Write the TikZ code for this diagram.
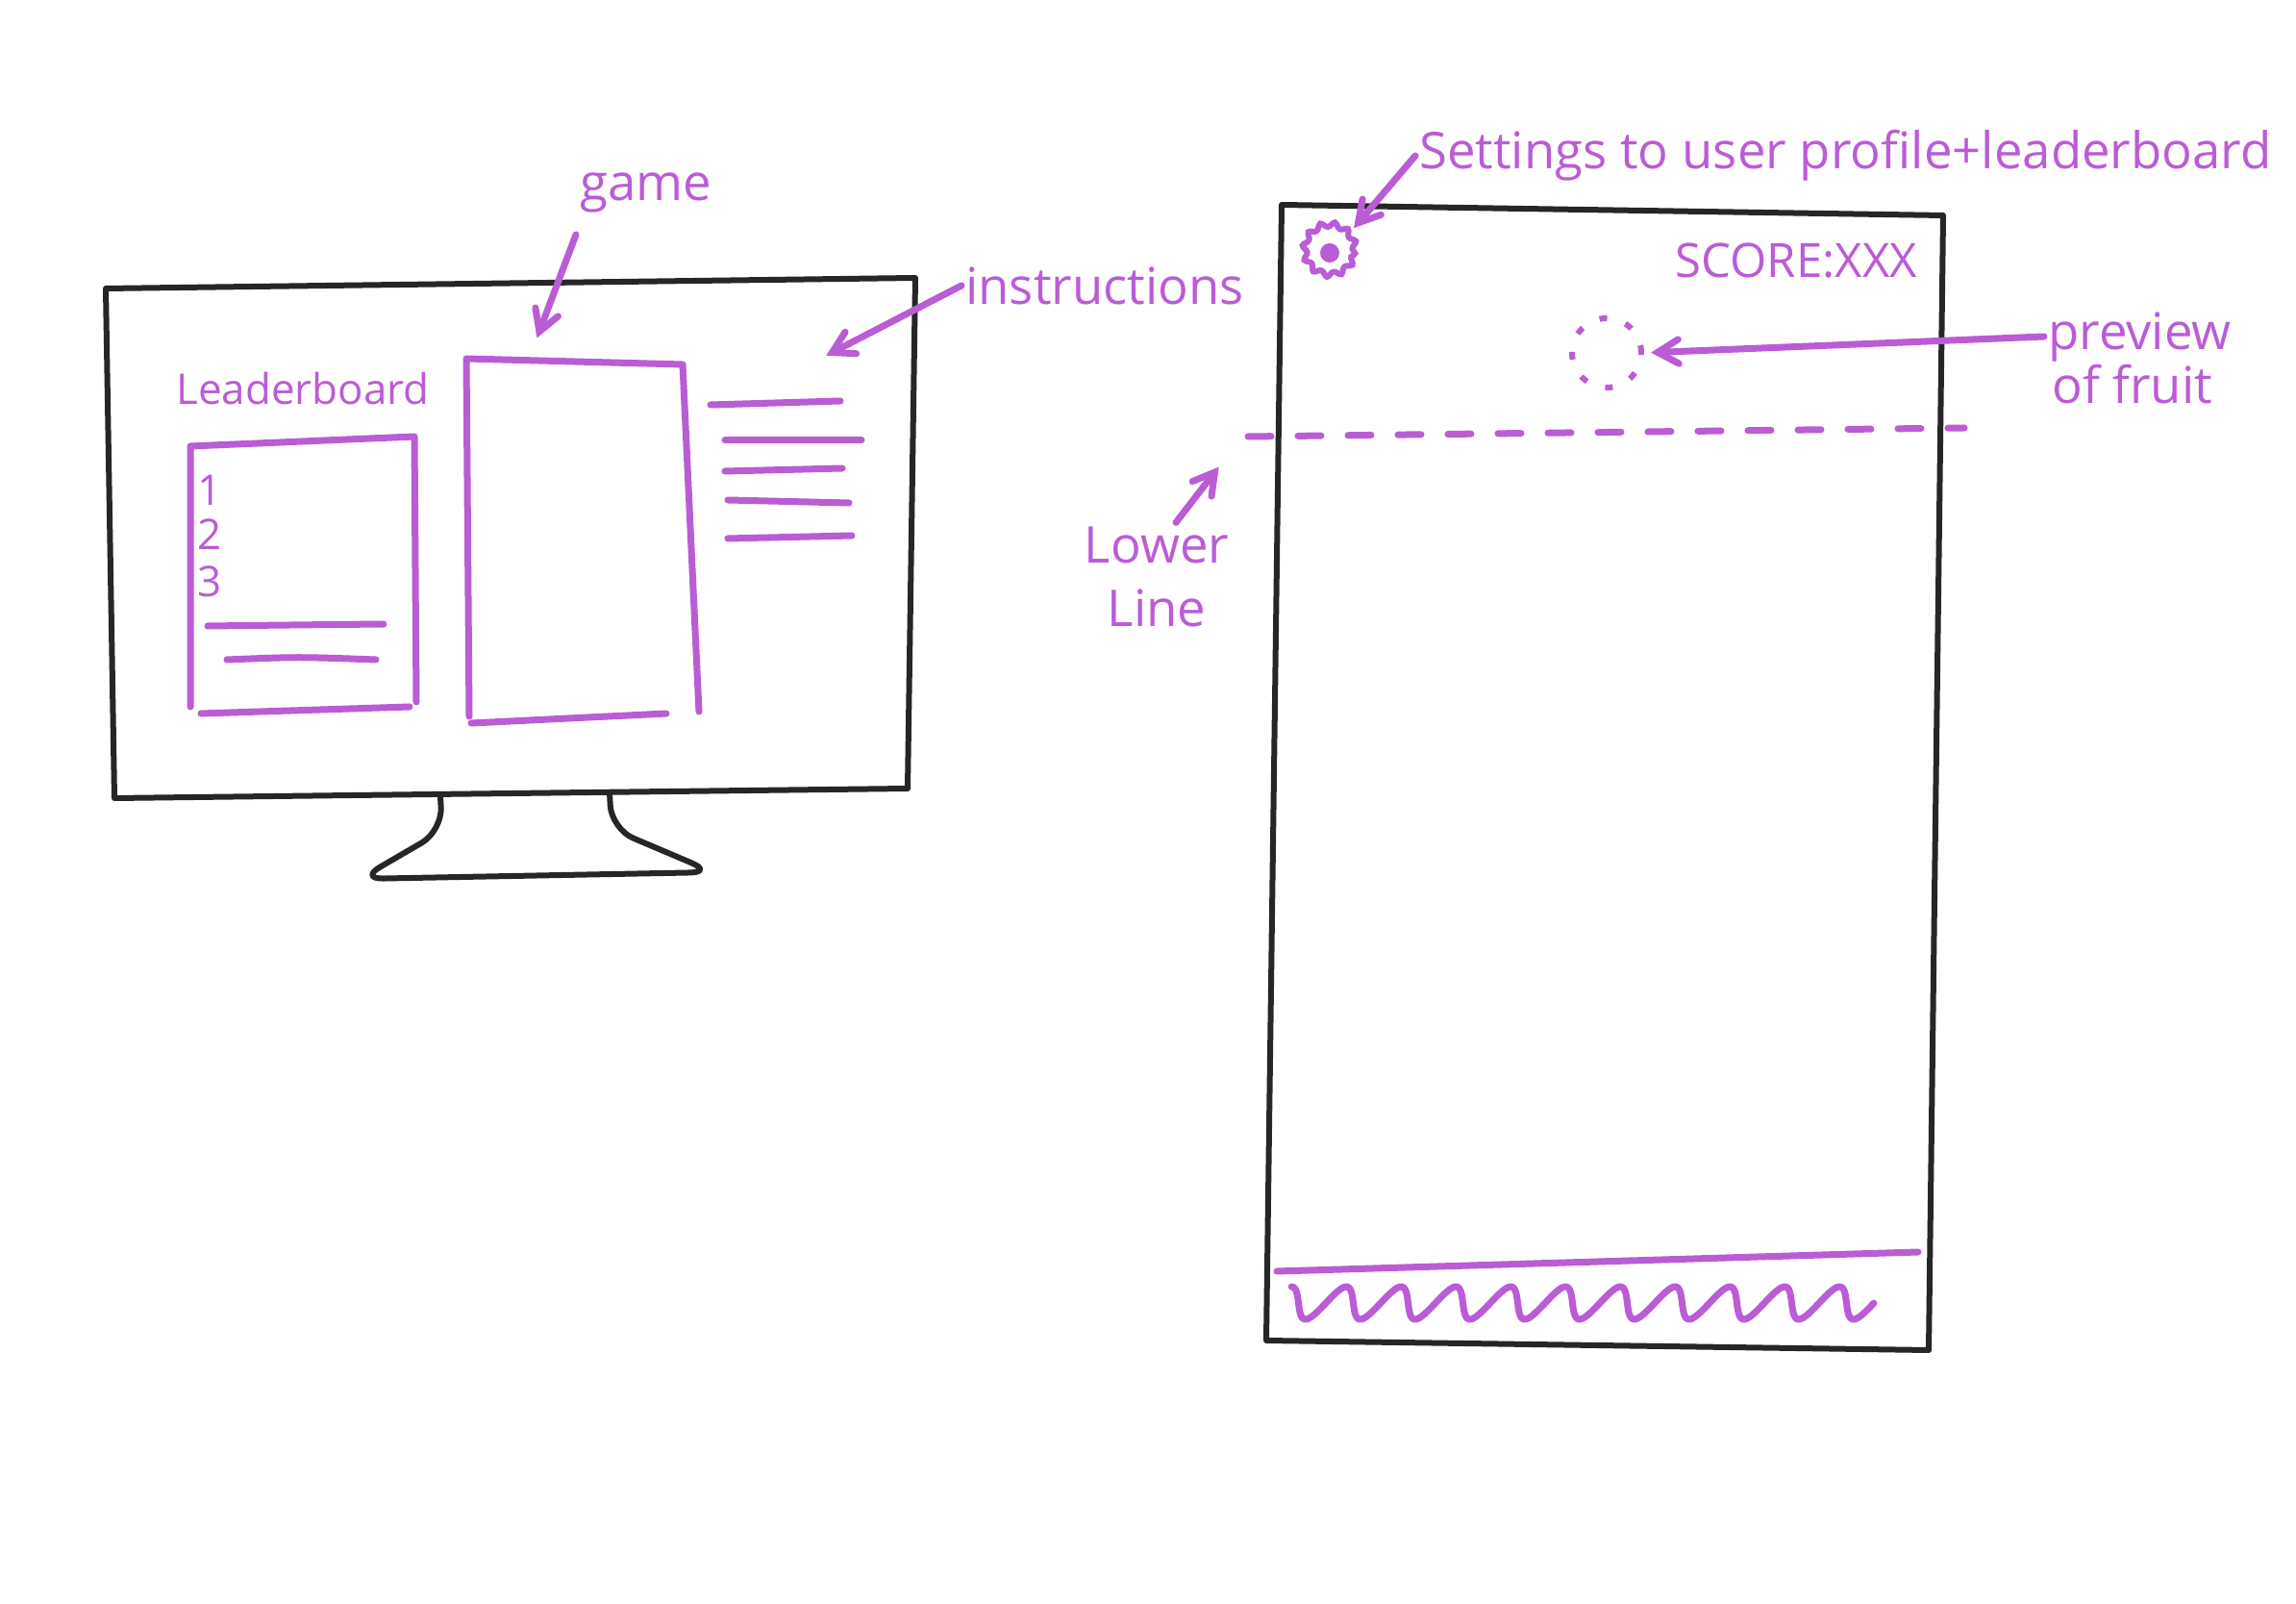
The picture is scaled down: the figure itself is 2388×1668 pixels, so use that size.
\documentclass[tikz,border=0pt]{standalone}
\usepackage{fontspec}
\setmainfont{Open Sans}
\usepackage{tikz}
\usetikzlibrary{arrows,shapes,decorations.pathmorphing}
\definecolor{pencil}{RGB}{186,92,214}
\definecolor{graphite}{RGB}{38,38,38}
\tikzstyle{frame}=[draw=graphite,line width=0.6mm,line join=round,line cap=round]
\tikzstyle{sketch}=[draw=pencil,line width=0.7mm,line cap=round,line join=round]
\tikzstyle{note}=[text=pencil,inner sep=1pt,font=\fontsize{15pt}{19pt}\selectfont]
\tikzstyle{small note}=[note,font=\fontsize{12.5pt}{15pt}\selectfont]
\tikzstyle{pointer}=[sketch,->,>=angle 60,shorten >=2pt]

\begin{document}
\begin{tikzpicture}[x=0.1mm,y=-0.1mm]
    \useasboundingbox (0,0) rectangle (2388,1668);
    % Desktop monitor with its stand
    \draw[frame] (110,300) -- (952,289) -- (944,820) -- (119,830) -- cycle;
    \draw[frame,rounded corners=7pt] (458,828) -- (460,864) -- (374,914)
        -- (742,907) -- (636,862) -- (634,824);

    % Leaderboard panel
    \node[small note] (leader label) at (315,404) {Leaderboard};
    \draw[sketch] (198,735) -- (198,464) -- (431,454) -- (433,730);
    \draw[sketch] (209,742) -- (426,735);
    \foreach \y/\n in {510/1, 556/2, 605/3}
        \node[small note] (rank\n) at (218,\y) {\n};
    \draw[sketch] (216,651) .. controls (300,650) .. (399,649);
    \draw[sketch] (236,686) .. controls (310,683) .. (391,686);

    % Game panel
    \draw[sketch] (488,745) -- (485,373) -- (710,379) -- (727,740);
    \draw[sketch] (490,752) -- (693,742);

    % Instruction lines
    \foreach \a/\b/\y/\z in {739/874/421/417, 754/896/458/458, 754/876/490/487, 757/883/520/523, 757/886/560/557}
        \draw[sketch] (\a,\y) -- (\b,\z);

    % Labels pointing into the monitor
    \node[note] (game label) at (672,200) {game};
    \coordinate (game tip) at (556,358);
    \draw[pointer] (599,244) -- (game tip);
    \node[note,anchor=west] (instr label) at (1000,297) {instructions};
    \coordinate (instr tip) at (853,373);
    \draw[pointer] (instr label.west) -- (instr tip);

    % Phone screen
    \draw[frame] (1333,213) -- (2021,224) -- (2006,1404) -- (1317,1394) -- cycle;
    \node[circle,draw=pencil,line width=0.6mm,minimum size=5.2mm,inner sep=0pt,
        decorate,decoration={snake,amplitude=0.25mm,segment length=1.4mm}] (gear) at (1383,263) {};
    \fill[pencil] (gear.center) circle (1mm);
    \node[note,anchor=east,font=\fontsize{14pt}{17pt}\selectfont] (score) at (1998,271) {SCORE:XXX};
    \node[circle,draw=pencil,line width=0.6mm,dash pattern=on 0.8mm off 2mm,
        minimum size=7.2mm,inner sep=0pt] (fruit) at (1671,367) {};
    \draw[sketch,dash pattern=on 2.4mm off 2.8mm] (1298,454) -- (2043,445);
    \draw[sketch] (1328,1322) -- (1995,1302);
    \draw[sketch] plot[domain=0.25:11,samples=300] ({1322+57*\x+7*sin(360*\x)},{1355-17*sin(360*\x)});

    % Labels pointing into the phone
    \node[note,anchor=west] (settings label) at (1472,162) {Settings to user profile+leaderboard};
    \draw[pointer] (settings label.west) -- (gear.north east);
    \node[note,anchor=west] (preview label) at (2126,350) {preview};
    \node[note,anchor=west] (fruit label) at (2130,400) {of fruit};
    \draw[pointer] (preview label.west) -- (fruit.east);
    \node[note,align=center] (lower label) at (1203,600) {Lower\\Line};
    \coordinate (line tip) at (1272,480);
    \draw[pointer] ([xshift=2mm]lower label.north) -- (line tip);
\end{tikzpicture}
\end{document}
